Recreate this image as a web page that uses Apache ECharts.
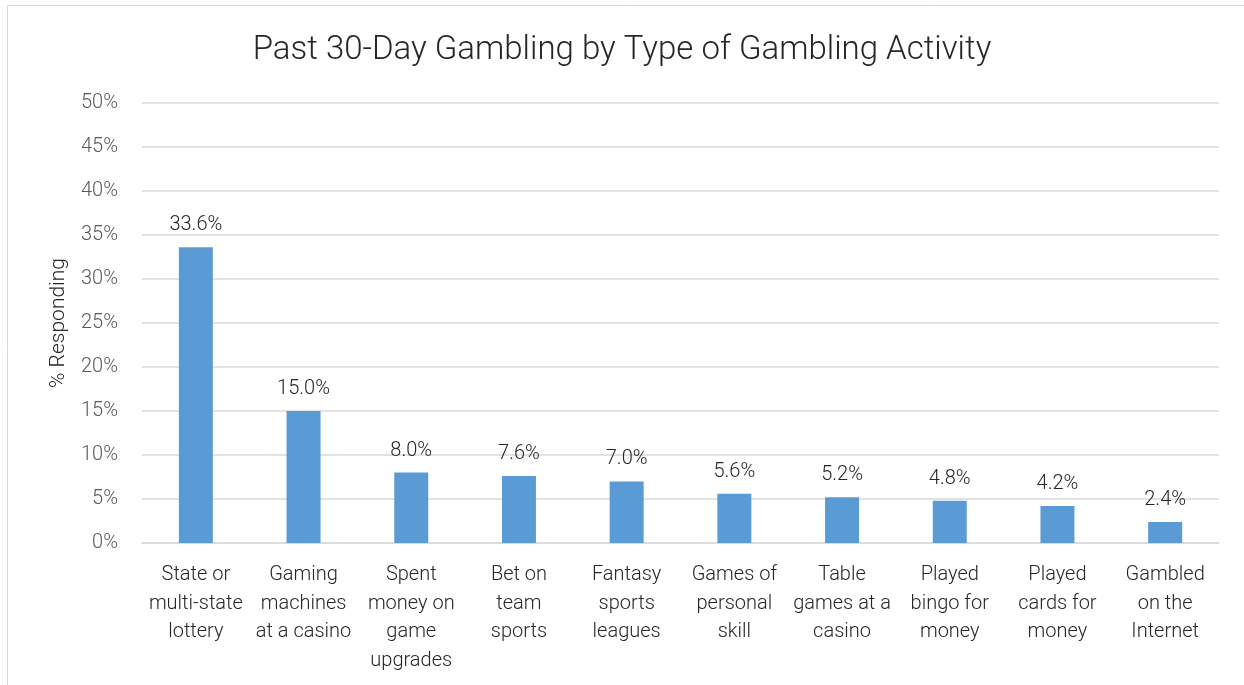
<!DOCTYPE html>
<html>
<head>
<meta charset="utf-8">
<script src="https://cdn.jsdelivr.net/npm/echarts@6/dist/echarts.min.js"></script>
<style>
  html, body { margin: 0; padding: 0; background: #fff; }
  #chart { width: 1244px; height: 685px; }
</style>
</head>
<body>
<div id="chart"></div>
<script>
var categories = [
    'State or\nmulti-state\nlottery',
    'Gaming\nmachines\nat a casino',
    'Spent\nmoney on\ngame\nupgrades',
    'Bet on\nteam\nsports',
    'Fantasy\nsports\nleagues',
    'Games of\npersonal\nskill',
    'Table\ngames at a\ncasino',
    'Played\nbingo for\nmoney',
    'Played\ncards for\nmoney',
    'Gambled\non the\nInternet'
];
var percents = [33.6, 15.0, 8.0, 7.6, 7.0, 5.6, 5.2, 4.8, 4.2, 2.4];

var chart = echarts.init(document.getElementById('chart'));
var font = 'Roboto';

var option = {
    backgroundColor: '#fff',
    title: {
        text: 'Past 30-Day Gambling by Type of Gambling Activity',
        left: 'center',
        top: 29,
        textStyle: {
            fontFamily: font,
            fontWeight: 300,
            fontSize: 33,
            color: '#262626'
        }
    },
    graphic: [{
        type: 'rect',
        shape: { x: 7.5, y: 5.5, width: 1250, height: 700 },
        style: { fill: 'none', stroke: '#d9d9d9', lineWidth: 1 },
        silent: true
    }],
    grid: {
        left: 142,
        right: 25,
        top: 103,
        bottom: 142
    },
    xAxis: {
        type: 'category',
        data: categories,
        axisTick: { show: false },
        axisLine: { lineStyle: { color: '#d9d9d9', width: 1.5 } },
        axisLabel: {
            interval: 0,
            margin: 18,
            fontFamily: font,
            fontWeight: 300,
            fontSize: 20,
            lineHeight: 28.5,
            color: '#262626'
        }
    },
    yAxis: {
        type: 'value',
        min: 0,
        max: 50,
        interval: 5,
        name: '% Responding',
        nameLocation: 'middle',
        nameGap: 73,
        nameTextStyle: {
            fontFamily: font,
            fontWeight: 300,
            fontSize: 21,
            color: '#262626'
        },
        axisLine: { show: false },
        axisTick: { show: false },
        axisLabel: {
            formatter: '{value}%',
            margin: 24,
            fontFamily: font,
            fontWeight: 300,
            fontSize: 20,
            color: '#595959'
        },
        splitLine: { lineStyle: { color: '#d9d9d9', width: 1.5 } }
    },
    series: [{
        type: 'bar',
        data: percents,
        barWidth: 34,
        itemStyle: { color: '#5b9bd5' },
        label: {
            show: true,
            position: 'top',
            distance: 12,
            formatter: function (p) { return p.value.toFixed(1) + '%'; },
            fontFamily: font,
            fontWeight: 300,
            fontSize: 20,
            color: '#262626'
        }
    }]
};
chart.setOption(option);
</script>
</body>
</html>
